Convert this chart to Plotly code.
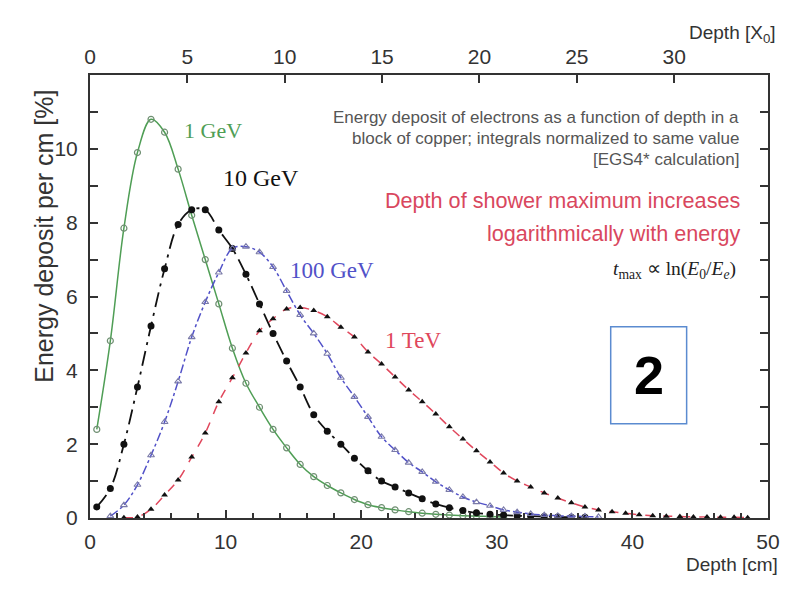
import plotly.graph_objects as go

# ---- data ----
depth_1gev = [0.5 + i for i in range(31)]
dep_1gev = [2.4, 4.8, 7.85, 9.9, 10.8, 10.45, 9.45, 8.2, 7.0, 5.8, 4.6, 3.65, 3.0, 2.4, 1.9,
            1.45, 1.12, 0.88, 0.68, 0.5, 0.36, 0.28, 0.22, 0.17, 0.13, 0.1, 0.08, 0.06, 0.05,
            0.04, 0.03]

depth_10gev = [0.5 + i for i in range(37)]
dep_10gev = [0.3, 0.8, 2.0, 3.55, 5.2, 6.75, 7.95, 8.35, 8.35, 7.8, 7.3, 6.6, 5.8, 5.0, 4.25,
             3.55, 2.8, 2.35, 2.0, 1.62, 1.28, 1.0, 0.84, 0.68, 0.52, 0.38, 0.28, 0.2, 0.14,
             0.1, 0.08, 0.06, 0.05, 0.04, 0.03, 0.02, 0.02]

depth_100gev = [1.5 + i for i in range(37)]
dep_100gev = [0.05, 0.35, 0.9, 1.7, 2.6, 3.7, 4.9, 5.85, 6.65, 7.3, 7.35, 7.2, 6.8, 6.15, 5.5,
              5.0, 4.45, 3.8, 3.28, 2.74, 2.2, 1.84, 1.5, 1.25, 0.98, 0.76, 0.57, 0.43, 0.33,
              0.22, 0.16, 0.11, 0.08, 0.06, 0.05, 0.04, 0.03]

depth_1tev = [2.5 + i for i in range(47)]
dep_1tev = [0.01, 0.03, 0.24, 0.62, 1.03, 1.65, 2.3, 3.15, 3.8, 4.47, 5.07, 5.4, 5.66, 5.7,
            5.62, 5.45, 5.17, 4.9, 4.5, 4.17, 3.82, 3.47, 3.15, 2.82, 2.47, 2.14, 1.82, 1.52,
            1.22, 1.0, 0.84, 0.68, 0.54, 0.41, 0.3, 0.22, 0.17, 0.13, 0.09, 0.06, 0.05, 0.04,
            0.03, 0.03, 0.02, 0.02, 0.01]

x_cm_ticks = [0, 10, 20, 30, 40, 50]
x_x0_ticks = [0, 5, 10, 15, 20, 25, 30]
y_ticks = [0, 2, 4, 6, 8, 10]
X0_CU = 1.436  # radiation length of copper in cm
X_MAX = 50
Y_MAX = 12

GREEN = "#4f9e55"
BLACK = "#111111"
BLUE = "#5151c8"
RED = "#e0475c"
AXC = "#333333"

fig = go.Figure()

fig.add_trace(go.Scatter(
    x=depth_1gev, y=dep_1gev, mode="lines+markers", line=dict(color=GREEN, width=1.5, shape="spline"),
    marker=dict(symbol="circle-open", size=6, color="#6f8f72", line=dict(width=1.2)), showlegend=False))
fig.add_trace(go.Scatter(
    x=depth_10gev, y=dep_10gev, mode="lines+markers",
    line=dict(color=BLACK, width=1.8, shape="spline", dash="longdashdot"),
    marker=dict(symbol="circle", size=7, color=BLACK), showlegend=False))
fig.add_trace(go.Scatter(
    x=depth_100gev, y=dep_100gev, mode="lines+markers",
    line=dict(color=BLUE, width=1.5, shape="spline", dash="dashdot"),
    marker=dict(symbol="triangle-up-open", size=6, color="#7a7aa8", line=dict(width=1.1)), showlegend=False))
fig.add_trace(go.Scatter(
    x=depth_1tev, y=dep_1tev, mode="lines+markers",
    line=dict(color=RED, width=1.5, shape="spline", dash="dash"),
    marker=dict(symbol="triangle-up", size=6, color=BLACK), showlegend=False))
# invisible trace to activate top axis
fig.add_trace(go.Scatter(x=[0], y=[0], xaxis="x2", mode="markers", marker=dict(opacity=0),
                         showlegend=False, hoverinfo="skip"))

tickfont = dict(family="Liberation Sans Narrow, Liberation Sans, Arial", size=21, color=AXC)

# page body has an 8px margin: figure is sized so that it ends at the window edge
fig.update_layout(
    width=780, height=591,
    margin=dict(l=82, r=20, t=67, b=81),
    paper_bgcolor="white", plot_bgcolor="white",
    xaxis=dict(range=[0, X_MAX], tickvals=x_cm_ticks, ticks="inside", ticklen=8, tickwidth=1.5,
               tickcolor=AXC, showline=True, linecolor=AXC, linewidth=2, showgrid=False,
               zeroline=False, tickfont=tickfont, ticklabelstandoff=4, automargin=False,
               minor=dict(dtick=2, ticks="inside", ticklen=5, tickcolor=AXC, showgrid=False)),
    xaxis2=dict(range=[0, X_MAX / X0_CU], tickvals=x_x0_ticks, overlaying="x", side="top",
                ticks="inside", ticklen=8, tickwidth=1.5, tickcolor=AXC, showline=True,
                linecolor=AXC, linewidth=2, showgrid=False, zeroline=False, tickfont=tickfont,
                ticklabelstandoff=1, automargin=False),
    yaxis=dict(range=[0, Y_MAX], tickvals=y_ticks, ticks="inside", ticklen=8, tickwidth=1.5,
               tickcolor=AXC, showline=True, linecolor=AXC, linewidth=2, mirror="allticks",
               showgrid=False, zeroline=False, tickfont=tickfont, ticklabelstandoff=6,
               automargin=False,
               minor=dict(dtick=1, ticks="inside", ticklen=5, tickcolor=AXC, showgrid=False)),
)

serif = "Liberation Serif, Times New Roman, serif"
sans = "Liberation Sans, Arial, sans-serif"

ann = [
    dict(x=6.8, y=10.49, text="1 GeV", font=dict(family=serif, size=22, color=GREEN), xanchor="left"),
    dict(x=9.67, y=9.21, text="10 GeV", font=dict(family=serif, size=24, color=BLACK), xanchor="left"),
    dict(x=14.62, y=6.7, text="100 GeV", font=dict(family=serif, size=23, color=BLUE), xanchor="left"),
    dict(x=21.6, y=4.82, text="1 TeV", font=dict(family=serif, size=23, color=RED), xanchor="left"),
    dict(x=48.0, y=10.85, text="Energy deposit of electrons as a function of depth in a",
         font=dict(family=sans, size=17, color="#555555"), xanchor="right"),
    dict(x=48.0, y=10.28, text="block of copper; integrals normalized to same value",
         font=dict(family=sans, size=17, color="#555555"), xanchor="right"),
    dict(x=48.0, y=9.7, text="[EGS4* calculation]",
         font=dict(family=sans, size=17, color="#555555"), xanchor="right"),
    dict(x=48.1, y=8.59, text="Depth of shower maximum increases",
         font=dict(family=sans, size=21.6, color="#d9475e"), xanchor="right"),
    dict(x=48.1, y=7.72, text="logarithmically with energy",
         font=dict(family=sans, size=21.6, color="#d9475e"), xanchor="right"),
    dict(x=47.8, y=6.72, text="<i>t</i><sub>max</sub> ∝ ln(<i>E</i><sub>0</sub>/<i>E<sub>e</sub></i>)",
         font=dict(family=serif, size=19.5, color="#222222"), xanchor="right"),
    dict(x=41.2, y=3.88, text="<b>2</b>", font=dict(family=sans, size=54, color="black")),
]
for a in ann:
    a.update(xref="x", yref="y", showarrow=False)
    fig.add_annotation(**a)

fig.add_annotation(xref="paper", yref="paper", x=1.0177, y=-0.133, text="Depth [cm]",
                   showarrow=False, xanchor="right",
                   font=dict(family=sans, size=19, color=AXC))
fig.add_annotation(xref="paper", yref="paper", x=1.0148, y=1.124, text="Depth [X<sub>0</sub>]",
                   showarrow=False, xanchor="right",
                   font=dict(family=sans, size=19, color=AXC))
fig.add_annotation(xref="paper", yref="paper", x=-0.0914, y=0.635, text="Energy deposit per cm [%]",
                   showarrow=False, textangle=-90,
                   font=dict(family=sans, size=25, color=AXC))

fig.add_shape(type="rect", xref="x", yref="y", x0=38.4, x1=44.0, y0=2.55, y1=5.18,
              line=dict(color="#5b8bd0", width=1.5), fillcolor="white", layer="below")

fig.write_html("out.html")
